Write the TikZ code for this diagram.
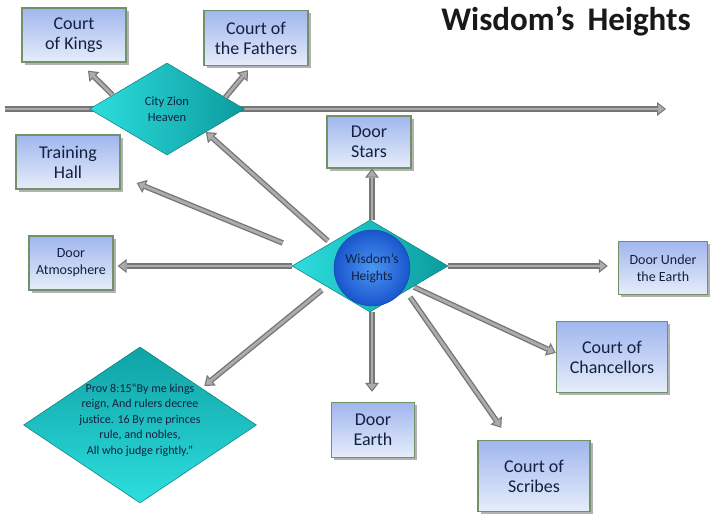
\documentclass[tikz,border=0pt]{standalone}
\usepackage{fontspec}
\setmainfont{Carlito}
\usetikzlibrary{shapes.geometric,arrows.meta,calc,shadows}

\definecolor{boxtop}{RGB}{160,182,238}
\definecolor{boxbot}{RGB}{230,237,250}
\definecolor{boxedge}{RGB}{115,145,105}
\definecolor{txt}{RGB}{20,32,64}
\definecolor{arrout}{RGB}{118,118,118}
\definecolor{arrin}{RGB}{172,172,172}
\definecolor{cyanA}{RGB}{45,222,222}
\definecolor{cyanB}{RGB}{12,155,158}
\definecolor{blueA}{RGB}{75,150,242}
\definecolor{blueB}{RGB}{25,85,205}

\begin{document}
\begin{tikzpicture}[x=1pt,y=-1pt,
  box/.style={rectangle, draw=boxedge, line width=1.4pt, top color=boxtop, bottom color=boxbot,
    text=txt, align=center, inner sep=0pt,
    drop shadow={shadow xshift=2.5pt, shadow yshift=-2.5pt, fill=black, opacity=0.3}},
  bigtext/.style={font=\fontsize{18}{20}\selectfont},
  smalltext/.style={font=\fontsize{14}{17}\selectfont},
  dia/.style={diamond, draw=cyanB!80!black, line width=0.5pt, left color=cyanA, right color=cyanB, inner sep=0pt},
  arr/.style={draw=arrout, line width=5.5pt,
    -{Triangle[length=9pt,width=14pt,line width=0pt]},
    postaction={draw=arrin, line width=2.8pt, shorten >=1.8pt,
      -{Triangle[length=6pt,width=9pt,line width=0pt]}}},
]
\fill[white] (0,0) rectangle (710,514);
\useasboundingbox (0,0) rectangle (710,514);

% horizontal line
\coordinate (hlA) at (5,109);
\coordinate (hlB) at (666,109);
\draw[arr] (hlA) -- (hlB);

% title
\node[font=\fontsize{33}{38}\selectfont\bfseries, text=black!90] (title) at (566,21) {Wisdom’s\, Heights};

% boxes
\node[box, bigtext, minimum width=104pt, minimum height=54pt] (ck) at (74,35) {Court\\of Kings};
\node[box, bigtext, minimum width=104pt, minimum height=55pt] (cf) at (256,38) {Court of\\the Fathers};
\node[box, bigtext, minimum width=104pt, minimum height=54pt] (th) at (68,162) {Training\\Hall};
\node[box, bigtext, minimum width=84pt, minimum height=52pt] (ds) at (369,142) {Door\\Stars};
\node[box, smalltext, minimum width=84pt, minimum height=54pt] (da) at (71,263) {Door\\Atmosphere};
\node[box, smalltext, minimum width=89pt, minimum height=53pt] (du) at (663,268) {Door Under\\the Earth};
\node[box, bigtext, minimum width=111pt, minimum height=71pt] (cc) at (612,357) {Court of\\Chancellors};
\node[box, bigtext, minimum width=83pt, minimum height=55pt] (de) at (373,430) {Door\\Earth};
\node[box, bigtext, minimum width=112pt, minimum height=71pt] (cs) at (534,476) {Court of\\Scribes};

% diamonds
\node[dia, minimum width=155pt, minimum height=92pt] (cz) at (167,109) {};
\node[text=txt, align=center, font=\fontsize{12.5}{16}\selectfont] (czt) at (167,109) {City Zion\\Heaven};

\node[dia, minimum width=156pt, minimum height=92pt] (wh) at (370,266) {};
\node[circle, minimum size=76pt, inner sep=0pt, inner color=blueA, outer color=blueB,
  draw=blueB!80!black, line width=0.4pt, text=txt, align=center,
  font=\fontsize{13.5}{17}\selectfont] (whc) at (372,268) {Wisdom’s\\Heights};

\node[diamond, draw=cyanB!80!black, line width=0.5pt, top color=cyanB!90!cyanA, bottom color=cyanA,
  inner sep=0pt, minimum width=233pt, minimum height=156pt] (pv) at (140,425) {};
\node[text=txt, align=center, font=\fontsize{12}{15.5}\selectfont] (pvt) at (140,420)
  {Prov 8:15“By me kings\\reign, And rulers decree\\justice. 16 By me princes\\rule, and nobles,\\All who judge rightly.”};

% arrows from Wisdom's Heights
\draw[arr] ($(wh.north west)+(-3,-2)$) -- (cz.south east);
\draw[arr] ($(wh.west)+(-9,-23)$) -- ($(th.east)+(16,21)$);
\draw[arr] (wh.west) -- ($(da.east)+(4,3)$);
\draw[arr] ($(wh.south west)+(-9,1)$) -- ($(pv.north east)+(6,0)$);
\draw[arr] ($(wh.north)+(2,0)$) -- ($(wh.north |- ds.south)+(2,0)$);
\draw[arr] ($(wh.south)+(2,0)$) -- ($(wh.south |- de.north)+(2,-10)$);
\draw[arr] (wh.east) -- ($(wh.east -| du.west)+(-10,0)$);
\draw[arr] ($(wh.south east)+(5,-2)$) -- ($(cc.west)+(0,-4)$);
\draw[arr] ($(wh.south east)+(1,8)$) -- ($(cs.north west)+(24,-12)$);

% arrows from City Zion
\draw[arr] ($(cz.west)!0.3!(cz.north)$) -- ($(ck.south)+(14,8)$);
\draw[arr] ($(cz.east)!0.25!(cz.north)$) -- ($(cf.south)+(-8,4)$);
\end{tikzpicture}
\end{document}
